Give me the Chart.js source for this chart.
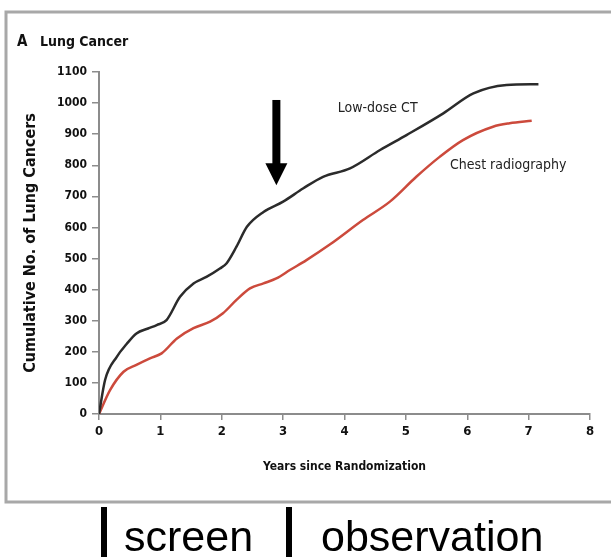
<!DOCTYPE html>
<html>
<head>
<meta charset="utf-8">
<script src="https://cdn.jsdelivr.net/npm/chart.js@4.4.1/dist/chart.umd.min.js"></script>
<style>
    html, body { margin: 0; padding: 0; background: #fff; }
    #chart1 { display: block; }
</style>
</head>
<body>
<canvas id="chart1" width="611" height="557"></canvas>
<script>
// values
const ctYears = [0, 0.1, 0.29, 0.45, 0.61, 0.8, 0.94, 1.1, 1.32, 1.54, 1.75, 1.97, 2.08, 2.24, 2.41, 2.68, 3.0, 3.33, 3.65, 4.09, 4.58, 5.01, 5.61, 6.1, 6.64, 7.16];
const ctValues = [0, 110, 184, 225, 259, 275, 286, 302, 377, 420, 441, 468, 485, 538, 602, 650, 683, 726, 763, 790, 849, 897, 967, 1031, 1058, 1061];

const xrYears = [0, 0.18, 0.4, 0.61, 0.83, 1.02, 1.27, 1.54, 1.81, 2.02, 2.24, 2.46, 2.68, 2.89, 3.11, 3.38, 3.76, 4.3, 4.74, 5.17, 5.55, 5.93, 6.42, 6.69, 7.05];
const xrValues = [0, 77, 136, 158, 179, 195, 243, 276, 297, 324, 367, 404, 420, 436, 463, 495, 545, 624, 683, 763, 827, 881, 924, 935, 943];

const xTicks = [0, 1, 2, 3, 4, 5, 6, 7, 8];
const yTicks = [0, 100, 200, 300, 400, 500, 600, 700, 800, 900, 1000, 1100];

const narrow = "'Liberation Sans Narrow', 'DejaVu Sans Condensed', 'Open Sans', sans-serif";

function toPoints(xs, ys) {
    return xs.map((x, i) => ({ x: x, y: ys[i] }));
}

// frame, title, arrow, line labels and the screen / observation strip
const extras = {
    id: 'extras',
    afterDraw(chart) {
        const ctx = chart.ctx;
        const x = chart.scales.x;
        const y = chart.scales.y;
        ctx.save();

        // grey frame round the panel
        ctx.strokeStyle = '#a8a8a8';
        ctx.lineWidth = 3;
        ctx.beginPath();
        ctx.moveTo(611, 12);
        ctx.lineTo(6, 12);
        ctx.lineTo(6, 502);
        ctx.lineTo(611, 502);
        ctx.stroke();

        // panel title
        ctx.fillStyle = '#111';
        ctx.textBaseline = 'alphabetic';
        ctx.font = 'bold 15px ' + narrow;
        ctx.fillText('A', 17, 46);
        ctx.font = 'bold 14px ' + narrow;
        ctx.fillText('Lung Cancer', 40, 46);

        // arrow at end of screening
        const ax = x.getPixelForValue(2.89);
        const aTop = y.getPixelForValue(1010);
        const aTip = y.getPixelForValue(736);
        ctx.fillStyle = '#000';
        ctx.fillRect(ax - 4, aTop, 8, aTip - aTop - 20);
        ctx.beginPath();
        ctx.moveTo(ax - 11, aTip - 22);
        ctx.lineTo(ax + 11, aTip - 22);
        ctx.lineTo(ax, aTip);
        ctx.closePath();
        ctx.fill();

        // line labels
        ctx.fillStyle = '#222';
        ctx.font = '14px ' + narrow;
        ctx.textBaseline = 'middle';
        ctx.fillText('Low-dose CT', x.getPixelForValue(3.89), y.getPixelForValue(984));
        ctx.fillText('Chest radiography', x.getPixelForValue(5.72), y.getPixelForValue(800));

        // phase strip under the figure
        ctx.fillStyle = '#000';
        ctx.fillRect(101, 507, 6, 50);
        ctx.fillRect(286, 507, 6, 50);
        ctx.font = '43px "Liberation Sans", Arial, sans-serif';
        ctx.textBaseline = 'alphabetic';
        ctx.fillText('screen', 124, 551);
        ctx.fillText('observation', 321, 551);

        ctx.restore();
    }
};

function createChart(ctx) {
    new Chart(ctx, {
        type: 'line',
        data: {
            datasets: [{
                label: 'Low-dose CT',
                data: toPoints(ctYears, ctValues),
                borderColor: '#2b2b2b',
                borderWidth: 2.5,
                pointRadius: 0,
                cubicInterpolationMode: 'monotone'
            }, {
                label: 'Chest radiography',
                data: toPoints(xrYears, xrValues),
                borderColor: '#cc4a3c',
                borderWidth: 2.5,
                pointRadius: 0,
                cubicInterpolationMode: 'monotone'
            }]
        },
        options: {
            responsive: false,
            animation: false,
            layout: {
                padding: { left: 15, right: 21, top: 72, bottom: 77 }
            },
            plugins: {
                legend: { display: false },
                tooltip: { enabled: false }
            },
            scales: {
                x: {
                    type: 'linear',
                    min: 0,
                    max: 8,
                    afterFit: function (scale) { scale.height = 66; },
                    afterBuildTicks: function (scale) {
                        scale.ticks = xTicks.map(v => ({ value: v }));
                    },
                    border: { display: true, color: '#8c8c8c', width: 2 },
                    grid: { drawOnChartArea: false, drawTicks: true, tickLength: 6, color: '#8c8c8c', lineWidth: 1.5 },
                    ticks: {
                        color: '#111',
                        padding: 4,
                        maxRotation: 0,
                        font: { family: narrow, size: 13, weight: 'bold' }
                    },
                    title: {
                        display: true,
                        text: 'Years since Randomization',
                        color: '#111',
                        padding: { top: 6, bottom: 6 },
                        font: { family: narrow, size: 12, weight: 'bold' }
                    }
                },
                y: {
                    min: 0,
                    max: 1100,
                    afterFit: function (scale) { scale.width = 84; },
                    afterBuildTicks: function (scale) {
                        scale.ticks = yTicks.map(v => ({ value: v }));
                    },
                    border: { display: true, color: '#8c8c8c', width: 2 },
                    grid: { drawOnChartArea: false, drawTicks: true, tickLength: 7, color: '#8c8c8c', lineWidth: 1.5 },
                    ticks: {
                        color: '#111',
                        padding: 5,
                        callback: function (value) { return String(value); },
                        font: { family: narrow, size: 12, weight: 'bold' }
                    },
                    title: {
                        display: true,
                        text: 'Cumulative No. of Lung Cancers',
                        color: '#111',
                        padding: { top: 6, bottom: 6 },
                        font: { family: narrow, size: 16, weight: 'bold' }
                    }
                }
            }
        },
        plugins: [extras]
    });
}

createChart(document.getElementById('chart1').getContext('2d'));
</script>
</body>
</html>
